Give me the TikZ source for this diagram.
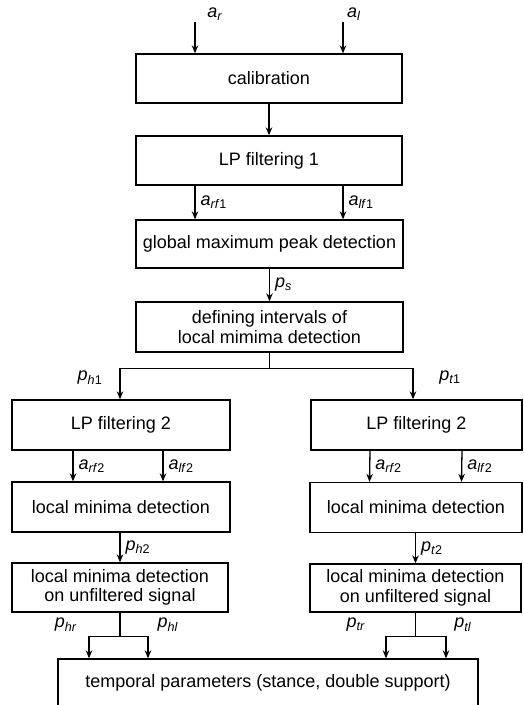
\documentclass[tikz,border=0pt]{standalone}
\usepackage{fontspec}
\setmainfont{Liberation Sans}
\usetikzlibrary{arrows.meta}
\newcommand\sig[3]{\textit{#1}\textsubscript{\textit{#2}#3}}

\begin{document}
\begin{tikzpicture}[x=1pt,y=-1pt,line width=1.3pt,
    font=\fontsize{18}{19.5}\selectfont,
    block/.style={draw,align=center,minimum height=49pt,inner sep=0pt},
    sigarrow/.style={-{Stealth[length=8pt,width=6.5pt]}},
    siglabel/.style={midway,right,xshift=3pt,inner sep=2pt}]
    \useasboundingbox (0,0) rectangle (524,705);
    \node[block,minimum width=266pt] (calib) at (269,78.5) {calibration};
    \node[block,minimum width=266pt] (lp1) at (269,160.5) {LP filtering 1};
    \node[block,minimum width=267pt,minimum height=48pt] (peak) at (269.5,244) {global maximum peak detection};
    \node[block,minimum width=267pt,minimum height=50pt] (intv) at (269.5,327) {defining intervals of\\local mimima detection};
    \node[block,minimum width=218pt,minimum height=50pt] (lpL) at (121,425) {LP filtering 2};
    \node[block,minimum width=211pt,minimum height=50pt] (lpR) at (416.5,425) {LP filtering 2};
    \node[block,minimum width=218pt,minimum height=50pt] (minL) at (121,507) {local minima detection};
    \node[block,minimum width=212pt,minimum height=50pt] (minR) at (416,507.5) {local minima detection};
    \node[block,minimum width=216pt] (unfL) at (120,587.5) {local minima detection\\on unfiltered signal};
    \node[block,minimum width=211pt,minimum height=48pt] (unfR) at (415.5,588) {local minima detection\\on unfiltered signal};
    \node[block,minimum width=420pt,minimum height=48pt] (temp) at (268,683) {temporal parameters (stance, double support)};

    \coordinate (ar) at (195,22);
    \coordinate (al) at (343,22);
    \node (arlab) at (215,14) {\sig{a}{r}{}};
    \node (allab) at (354,14) {\sig{a}{l}{}};
    \draw[sigarrow] (ar) -- (ar |- calib.north);
    \draw[sigarrow] (al) -- (al |- calib.north);
    \draw[sigarrow] (calib.south) -- (calib.south |- lp1.north);
    \draw[sigarrow] (lp1.south -| ar) -- (peak.north -| ar) node[siglabel] {\sig{a}{rf}{1}};
    \draw[sigarrow] (lp1.south -| al) -- (peak.north -| al) node[siglabel] {\sig{a}{lf}{1}};
    \draw[sigarrow] (peak) -- (intv) node[siglabel] {\sig{p}{s}{}};

    \draw (intv.south) -- ++(0,16) coordinate (split);
    \draw[sigarrow] (split) -| ([xshift=-1pt]lpL.north);
    \draw[sigarrow] (split) -| ([xshift=-3.5pt]lpR.north);
    \node (ph1lab) at (90,378) {\sig{p}{h}{1}};
    \node (pt1lab) at (450,378) {\sig{p}{t}{1}};

    \draw[sigarrow] ([xshift=-48pt]lpL.south) -- ([xshift=-48pt]minL.north) node[siglabel] {\sig{a}{rf}{2}};
    \draw[sigarrow] ([xshift=42pt]lpL.south) -- ([xshift=42pt]minL.north) node[siglabel] {\sig{a}{lf}{2}};
    \draw[sigarrow] ([xshift=-46.5pt]lpR.south) -- ([xshift=-46.5pt]minR.north) node[siglabel] {\sig{a}{rf}{2}};
    \draw[sigarrow] ([xshift=45.5pt]lpR.south) -- ([xshift=45.5pt]minR.north) node[siglabel] {\sig{a}{lf}{2}};

    \draw[sigarrow] (minL.south -| unfL.north) -- (unfL.north) node[siglabel] {\sig{p}{h}{2}};
    \draw[sigarrow] (minR.south -| unfR.north) -- (unfR.north) node[siglabel] {\sig{p}{t}{2}};

    \draw (unfL.south) -- ++(0,24) coordinate (jL);
    \draw[sigarrow] (jL) -| ([xshift=-31pt]jL |- temp.north);
    \draw[sigarrow] (jL) -| ([xshift=28pt]jL |- temp.north);
    \draw (unfR.south) -- ++(0,24) coordinate (jR);
    \draw[sigarrow] (jR) -| ([xshift=-29.5pt]jR |- temp.north);
    \draw[sigarrow] (jR) -| ([xshift=30.5pt]jR |- temp.north);
    \node (phrlab) at (66,625) {\sig{p}{hr}{}};
    \node (phllab) at (168,625) {\sig{p}{hl}{}};
    \node (ptrlab) at (356,625) {\sig{p}{tr}{}};
    \node (ptllab) at (463,625) {\sig{p}{tl}{}};
\end{tikzpicture}
\end{document}
